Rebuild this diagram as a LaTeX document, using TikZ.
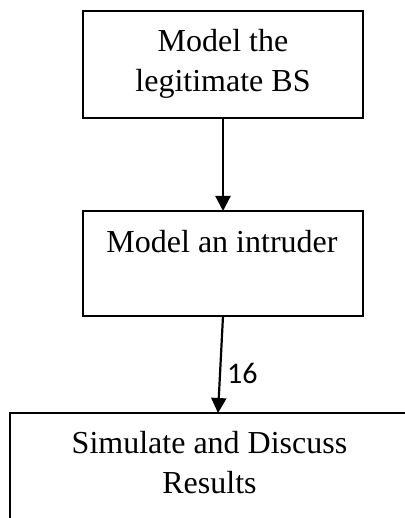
\documentclass[tikz,border=0pt]{standalone}
\usepackage{fontspec}
\setmainfont{Liberation Serif}
\newfontfamily\labelfont{Carlito}
\usetikzlibrary{arrows.meta}
\begin{document}
\begin{tikzpicture}[x=1pt,y=-1pt,
  stagebox/.style={draw=black,line width=2.2pt,inner sep=0pt,outer sep=0pt},
  stagetext/.style={anchor=base,inner sep=0pt,font=\fontsize{32}{38}\selectfont},
  flow/.style={line width=2.2pt,-{Triangle[length=15pt,width=15pt]}}]
\useasboundingbox (0,0) rectangle (404,518);
\fill[white] (0,0) rectangle (404,518);
% process boxes
\node[stagebox,minimum width=280pt,minimum height=107pt] (b1) at (223,64.5) {};
\node[stagebox,minimum width=280pt,minimum height=105pt] (b2) at (223,263.5) {};
\node[stagebox,minimum width=400pt,minimum height=120pt] (b3) at (210,473) {};
% box texts
\node[stagetext] (t1a) at (223,52) {Model the};
\node[stagetext] (t1b) at (223,92) {legitimate BS};
\node[stagetext] (t2) at (222,252) {Model an intruder};
\node[stagetext] (t3a) at (209.5,453) {Simulate and Discuss};
\node[stagetext] (t3b) at (209.5,493) {Results};
% connectors
\draw[flow] (b1.south) -- (b2.north);
\coordinate (c3) at (218,413);
\draw[flow] (b2.south) -- (c3);
\node[anchor=base west,inner sep=0pt,font=\labelfont\fontsize{30}{36}\selectfont] (l16) at (227,383) {16};
\end{tikzpicture}
\end{document}
